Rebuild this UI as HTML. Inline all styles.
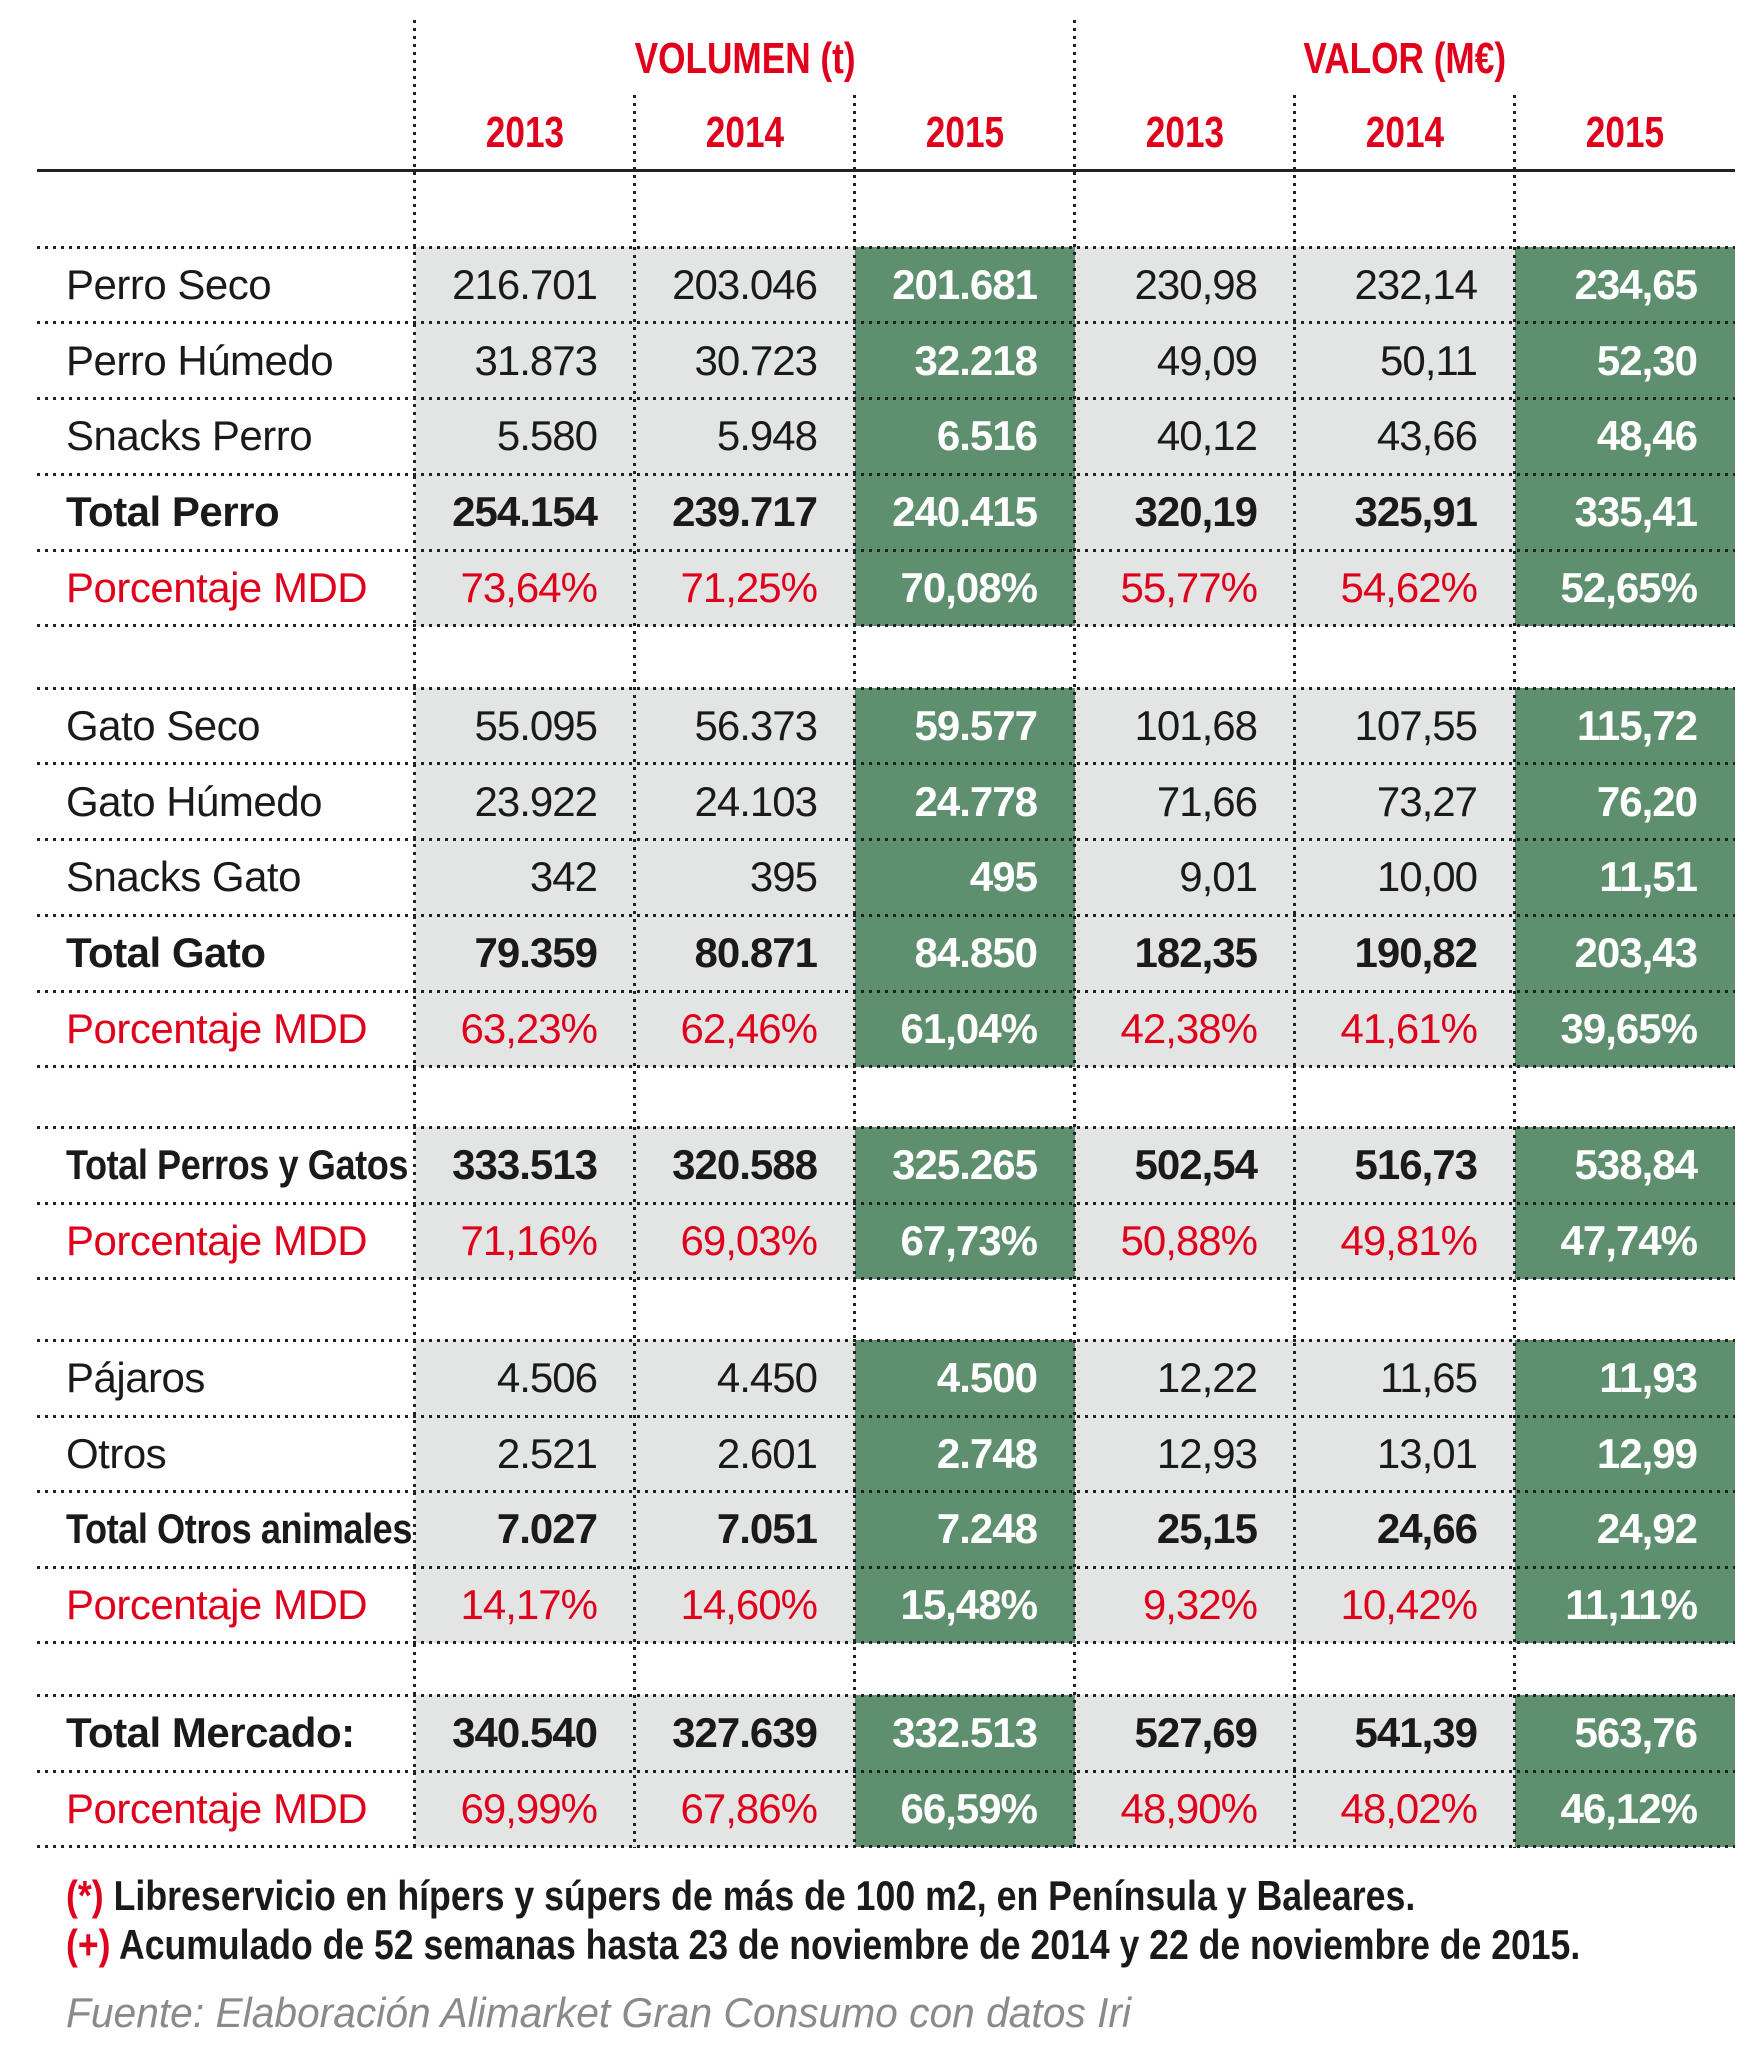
<!DOCTYPE html>
<html><head><meta charset="utf-8"><style>
body{margin:0;width:1760px;height:2064px;background:#fff;position:relative;overflow:hidden;font-family:"Liberation Sans",sans-serif;color:#1a1a1a}
.hd{position:absolute;color:#e0001b;font-weight:bold;font-size:44px;text-align:center;white-space:nowrap}
.hd span{display:inline-block;transform:scaleX(.8)}
.r{position:absolute;left:0;width:1760px;height:76px}
.r div{position:absolute;top:0;height:100%;display:flex;align-items:center;justify-content:flex-end;padding-right:38px;box-sizing:border-box;width:220px;font-size:42px;letter-spacing:-1px;white-space:nowrap}
.r .l{left:66px;width:350px;justify-content:flex-start;padding:0;letter-spacing:-0.5px}
.r div:nth-child(2){left:415px;background:#e2e5e3}
.r div:nth-child(3){left:635px;background:#e2e5e3}
.r div:nth-child(4){left:855px;background:#5e8f6e;color:#fff;font-weight:bold}
.r div:nth-child(5){left:1075px;background:#e2e5e3}
.r div:nth-child(6){left:1295px;background:#e2e5e3}
.r div:nth-child(7){left:1515px;width:220px;background:#5e8f6e;color:#fff;font-weight:bold}
.b div{font-weight:bold}
.p div{color:#e0001b}
.p div:nth-child(4),.p div:nth-child(7){color:#fff}
.sq{display:inline-block;transform:scaleX(.86);transform-origin:left center}
.h{position:absolute;left:37px;width:1698px;height:3px;background:repeating-linear-gradient(90deg,#222 0 3px,transparent 3px 8px)}
.v{position:absolute;width:3px;background:repeating-linear-gradient(180deg,#222 0 3px,transparent 3px 8px)}
.f{position:absolute;left:66px;font-size:42px;font-weight:bold;white-space:nowrap;transform-origin:left center}
</style></head><body>
<div class="hd" style="left:415px;width:660px;top:34px"><span>VOLUMEN (t)</span></div>
<div class="hd" style="left:1075px;width:660px;top:34px"><span>VALOR (M€)</span></div>
<div class="hd" style="left:415px;width:220px;top:108px"><span>2013</span></div>
<div class="hd" style="left:635px;width:220px;top:108px"><span>2014</span></div>
<div class="hd" style="left:855px;width:220px;top:108px"><span>2015</span></div>
<div class="hd" style="left:1075px;width:220px;top:108px"><span>2013</span></div>
<div class="hd" style="left:1295px;width:220px;top:108px"><span>2014</span></div>
<div class="hd" style="left:1515px;width:220px;top:108px"><span>2015</span></div>
<div style="position:absolute;left:37px;top:169px;width:1698px;height:3px;background:#222"></div>

<div class="r" style="top:247px"><div class="l">Perro Seco</div><div>216.701</div><div>203.046</div><div>201.681</div><div>230,98</div><div>232,14</div><div>234,65</div></div>
<div class="r" style="top:323px"><div class="l">Perro Húmedo</div><div>31.873</div><div>30.723</div><div>32.218</div><div>49,09</div><div>50,11</div><div>52,30</div></div>
<div class="r" style="top:398px"><div class="l">Snacks Perro</div><div>5.580</div><div>5.948</div><div>6.516</div><div>40,12</div><div>43,66</div><div>48,46</div></div>
<div class="r b" style="top:474px"><div class="l">Total Perro</div><div>254.154</div><div>239.717</div><div>240.415</div><div>320,19</div><div>325,91</div><div>335,41</div></div>
<div class="r p" style="top:550px"><div class="l">Porcentaje MDD</div><div>73,64%</div><div>71,25%</div><div>70,08%</div><div>55,77%</div><div>54,62%</div><div>52,65%</div></div>

<div class="r" style="top:688px"><div class="l">Gato Seco</div><div>55.095</div><div>56.373</div><div>59.577</div><div>101,68</div><div>107,55</div><div>115,72</div></div>
<div class="r" style="top:764px"><div class="l">Gato Húmedo</div><div>23.922</div><div>24.103</div><div>24.778</div><div>71,66</div><div>73,27</div><div>76,20</div></div>
<div class="r" style="top:839px"><div class="l">Snacks Gato</div><div>342</div><div>395</div><div>495</div><div>9,01</div><div>10,00</div><div>11,51</div></div>
<div class="r b" style="top:915px"><div class="l">Total Gato</div><div>79.359</div><div>80.871</div><div>84.850</div><div>182,35</div><div>190,82</div><div>203,43</div></div>
<div class="r p" style="top:991px"><div class="l">Porcentaje MDD</div><div>63,23%</div><div>62,46%</div><div>61,04%</div><div>42,38%</div><div>41,61%</div><div>39,65%</div></div>

<div class="r b" style="top:1127px"><div class="l"><span class="sq">Total Perros y Gatos</span></div><div>333.513</div><div>320.588</div><div>325.265</div><div>502,54</div><div>516,73</div><div>538,84</div></div>
<div class="r p" style="top:1203px"><div class="l">Porcentaje MDD</div><div>71,16%</div><div>69,03%</div><div>67,73%</div><div>50,88%</div><div>49,81%</div><div>47,74%</div></div>

<div class="r" style="top:1340px"><div class="l">Pájaros</div><div>4.506</div><div>4.450</div><div>4.500</div><div>12,22</div><div>11,65</div><div>11,93</div></div>
<div class="r" style="top:1416px"><div class="l">Otros</div><div>2.521</div><div>2.601</div><div>2.748</div><div>12,93</div><div>13,01</div><div>12,99</div></div>
<div class="r b" style="top:1491px"><div class="l"><span class="sq">Total Otros animales</span></div><div>7.027</div><div>7.051</div><div>7.248</div><div>25,15</div><div>24,66</div><div>24,92</div></div>
<div class="r p" style="top:1567px"><div class="l">Porcentaje MDD</div><div>14,17%</div><div>14,60%</div><div>15,48%</div><div>9,32%</div><div>10,42%</div><div>11,11%</div></div>

<div class="r b" style="top:1695px"><div class="l">Total Mercado:</div><div>340.540</div><div>327.639</div><div>332.513</div><div>527,69</div><div>541,39</div><div>563,76</div></div>
<div class="r p" style="top:1771px"><div class="l">Porcentaje MDD</div><div>69,99%</div><div>67,86%</div><div>66,59%</div><div>48,90%</div><div>48,02%</div><div>46,12%</div></div>

<div class="v" style="left:413px;top:20px;height:1828px"></div>
<div class="v" style="left:1073px;top:20px;height:1828px"></div>
<div class="v" style="left:633px;top:95px;height:1753px"></div>
<div class="v" style="left:853px;top:95px;height:1753px"></div>
<div class="v" style="left:1293px;top:95px;height:1753px"></div>
<div class="v" style="left:1513px;top:95px;height:1753px"></div>

<div class="h" style="top:246px"></div><div class="h" style="top:321px"></div><div class="h" style="top:397px"></div><div class="h" style="top:473px"></div><div class="h" style="top:549px"></div><div class="h" style="top:624px"></div>
<div class="h" style="top:687px"></div><div class="h" style="top:762px"></div><div class="h" style="top:838px"></div><div class="h" style="top:914px"></div><div class="h" style="top:990px"></div><div class="h" style="top:1065px"></div>
<div class="h" style="top:1126px"></div><div class="h" style="top:1202px"></div><div class="h" style="top:1277px"></div>
<div class="h" style="top:1339px"></div><div class="h" style="top:1415px"></div><div class="h" style="top:1490px"></div><div class="h" style="top:1566px"></div><div class="h" style="top:1641px"></div>
<div class="h" style="top:1694px"></div><div class="h" style="top:1770px"></div><div class="h" style="top:1845px"></div>

<div class="f" style="top:1872px;transform:scaleX(.85)"><span style="color:#e0001b">(*)</span> Libreservicio en hípers y súpers de más de 100 m2, en Península y Baleares.</div>
<div class="f" style="top:1921px;transform:scaleX(.847)"><span style="color:#e0001b">(+)</span> Acumulado de 52 semanas hasta 23 de noviembre de 2014 y 22 de noviembre de 2015.</div>
<div class="f" style="top:1989px;font-weight:normal;font-style:italic;color:#8a8a8a;transform:scaleX(.97)">Fuente: Elaboración Alimarket Gran Consumo con datos Iri</div>
</body></html>
